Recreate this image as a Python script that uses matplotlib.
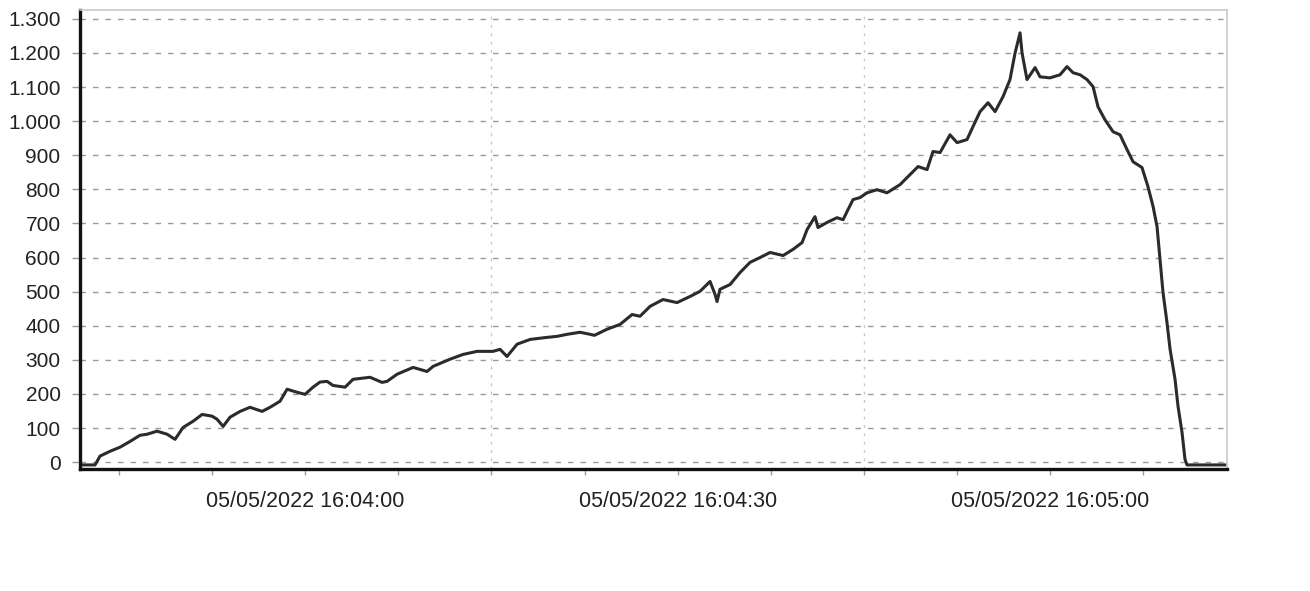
import matplotlib
matplotlib.use("Agg")
import matplotlib.pyplot as plt
import matplotlib.dates as mdates
import matplotlib.ticker as mticker
import pandas as pd

# seconds after 05/05/2022 16:03:40 and the value read at that moment
secs = [1.88, 3.09, 3.49, 4.30, 5.10, 5.91, 6.71, 7.28, 8.08, 8.89, 9.53, 10.18,
        10.98, 11.71, 12.51, 12.91, 13.40, 13.96, 14.77, 15.57, 16.54, 17.18,
        17.99, 18.55, 19.36, 20.00, 20.64, 21.20, 21.77, 22.25, 23.22, 23.86,
        25.23, 26.20, 26.60, 27.41, 28.70, 29.82, 30.31, 31.67, 32.72, 33.85,
        35.14, 35.70, 36.26, 37.07, 38.12, 39.48, 40.29, 41.10, 42.14, 42.95,
        43.30, 44.32, 45.36, 46.33, 46.97, 47.78, 48.82, 49.95, 51.00, 51.80,
        52.61, 53.01, 53.17, 53.41, 54.22, 55.02, 55.83, 56.63, 57.44, 58.49,
        59.29, 60.02, 60.42, 61.06, 61.30, 62.03, 62.83, 63.32, 63.64, 64.12,
        64.69, 65.25, 66.05, 66.86, 67.91, 68.71, 69.36, 70.08, 70.56, 71.13,
        71.93, 72.50, 73.30, 73.78, 74.35, 74.99, 75.56, 76.20, 76.76, 77.17,
        77.57, 77.73, 78.13, 78.78, 79.18, 79.98, 80.79, 81.35, 81.84, 82.40,
        82.96, 83.45, 83.85, 84.41, 85.06, 85.62, 86.18, 86.67, 87.39, 87.87,
        88.28, 88.60, 88.84, 89.08, 89.40, 89.65, 90.05, 90.29, 90.61, 90.85,
        91.01, 94.24]
values = [-8, -8, 18, 32, 44, 61, 79, 82, 91, 82, 67, 102,
          120, 140, 135, 126, 105, 132, 149, 161, 149, 161,
          179, 214, 205, 199, 220, 235, 237, 225, 220, 243,
          249, 234, 237, 258, 278, 266, 281, 302, 316, 325,
          325, 331, 310, 346, 360, 366, 369, 375, 381, 375,
          372, 390, 404, 433, 428, 457, 477, 468, 486, 501,
          530, 492, 471, 507, 521, 556, 586, 600, 615, 606,
          624, 644, 682, 720, 688, 703, 717, 711, 735, 770,
          776, 790, 799, 790, 814, 843, 867, 858, 911, 908,
          960, 937, 946, 984, 1028, 1054, 1028, 1072, 1122, 1200,
          1259, 1200, 1122, 1157, 1130, 1127, 1136, 1160, 1142, 1136,
          1122, 1101, 1042, 1004, 969, 960, 917, 881, 864, 808,
          750, 691, 594, 498, 410, 331, 243, 164, 88, 9,
          -8, -8]

start = pd.Timestamp("2022-05-05 16:03:40")
x_from, x_to = 1.88, 94.24
y_ticks = list(range(0, 1400, 100))

times = start + pd.to_timedelta(secs, unit="s")

plt.rcParams["font.family"] = ["Liberation Sans", "DejaVu Sans"]

fig = plt.figure(figsize=(13.1, 5.91), dpi=100)
ax = fig.add_axes([0.0611, 0.2064, 0.8756, 0.7767])

ax.plot(times, values, color="#2b2b2b", lw=2.2, solid_joinstyle="round")

ax.set_xlim(start + pd.Timedelta(seconds=x_from), start + pd.Timedelta(seconds=x_to))
ax.set_ylim(-20, 1326)

# y axis: european thousands separator
ax.set_yticks(y_ticks)
ax.yaxis.set_major_formatter(mticker.FuncFormatter(lambda v, p: f"{int(v):,}".replace(",", ".")))
ax.grid(axis="y", color="#9a9a9a", linestyle=(0, (4, 5)), lw=1.0)

# x axis: labels every 30 s, small ticks every 7.5 s
ax.xaxis.set_major_locator(mdates.SecondLocator(bysecond=[0, 30]))
ax.xaxis.set_major_formatter(mdates.DateFormatter("%d/%m/%Y %H:%M:%S"))
ax.xaxis.set_minor_locator(mdates.MicrosecondLocator(interval=7500000))
ax.tick_params(axis="x", which="major", length=4, width=1, color="#999999", pad=12,
               labelsize=15.5, labelcolor="#222222")
ax.tick_params(axis="x", which="minor", length=4, width=1, color="#999999")
ax.tick_params(axis="y", length=6, width=1, color="#999999", pad=8,
               labelsize=15, labelcolor="#222222")

# faint vertical grid at quarter minutes
for s in [35, 65]:
    ax.axvline(start + pd.Timedelta(seconds=s), color="#c8c8c8", lw=1, linestyle=(0, (2, 4)), zorder=0)

for side in ["left", "bottom"]:
    ax.spines[side].set_color("#111111")
    ax.spines[side].set_linewidth(2.4)
for side in ["top", "right"]:
    ax.spines[side].set_color("#c3ccd6")
    ax.spines[side].set_linewidth(1.2)

fig.savefig("out.png", dpi=100)
